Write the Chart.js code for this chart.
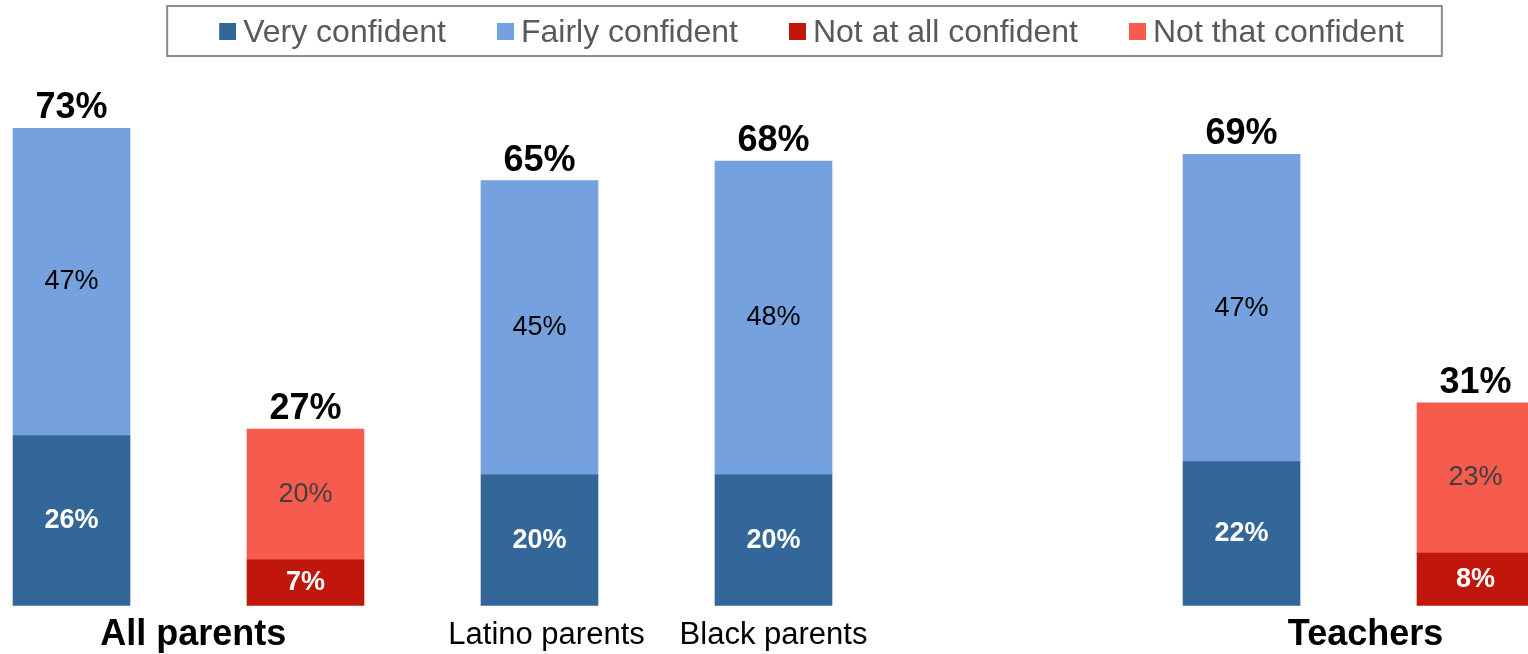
<!DOCTYPE html>
<html>
<head>
<meta charset="utf-8">
<script src="https://cdn.jsdelivr.net/npm/chart.js@4.4.1/dist/chart.umd.min.js"></script>
<style>
  html, body { margin: 0; padding: 0; background: #fff; overflow: hidden; }
  #wrap { width: 1528px; height: 654px; position: relative; }
</style>
</head>
<body>
<div id="wrap"><canvas id="grafica"></canvas></div>
<script>
// Slots from left to right (slot 4 is the empty gap between groups)
const slots = ["All parents (confident)", "All parents (not confident)", "Latino parents", "Black parents", "", "Teachers (confident)", "Teachers (not confident)"];
// Labels under the bars and the slot they are centred on
const tickLabels = ["All parents", "Latino parents", "Black parents", "Teachers"];
const tickAt = [0.52, 2.03, 3, 5.53];
// Series values in %
const veryConfident   = [26, null, 20, 20, null, 22, null];
const fairlyConfident = [47, null, 45, 48, null, 47, null];
const notAtAll        = [null, 7, null, null, null, null, 8];
const notThat         = [null, 20, null, null, null, null, 23];

const seriesNames  = ["Very confident", "Fairly confident", "Not at all confident", "Not that confident"];
const seriesValues = [veryConfident, fairlyConfident, notAtAll, notThat];
const seriesColors = ['#336699', '#75A1DE', '#C0160C', '#F65B4E'];
const labelColors  = ['#FFFFFF', '#000000', '#FFFFFF', '#404040'];
const labelBold    = [true, false, true, false];

const FAMILY = "'Liberation Sans', Arial, sans-serif";

// legend marker: small square at the right end of a transparent strip
function marcador(color) {
    const c = document.createElement('canvas');
    c.width = 67; c.height = 28;
    const g = c.getContext('2d');
    g.fillStyle = color;
    g.fillRect(50, 4, 17, 17);
    return c;
}
const marcadores = seriesColors.map(marcador);

const toPoints = arr => arr.map((v, i) => v === null ? null : {x: i, y: v}).filter(p => p);

// values inside the segments and totals above each bar
const etiquetas = {
    id: 'etiquetas',
    afterDatasetsDraw(chart) {
        const ctx = chart.ctx;
        const tops = {};
        ctx.save();
        ctx.textAlign = 'center';
        ctx.textBaseline = 'middle';
        chart.data.datasets.forEach((ds, d) => {
            const meta = chart.getDatasetMeta(d);
            meta.data.forEach((bar, j) => {
                const p = ds.data[j];
                ctx.font = (labelBold[d] ? 'bold ' : '') + '27px ' + FAMILY;
                ctx.fillStyle = labelColors[d];
                ctx.fillText(p.y + '%', bar.x, (bar.y + bar.base) / 2);
                if (!(p.x in tops) || bar.y < tops[p.x].y) tops[p.x] = {x: bar.x, y: bar.y};
            });
        });
        ctx.font = 'bold 36px ' + FAMILY;
        ctx.fillStyle = '#000000';
        ctx.textBaseline = 'alphabetic';
        Object.keys(tops).forEach(k => {
            const total = seriesValues.reduce((s, arr) => s + (arr[k] || 0), 0);
            ctx.fillText(total + '%', tops[k].x, tops[k].y - 10);
        });
        ctx.restore();
    },
    afterDraw(chart) {
        // frame round the legend
        const lg = chart.legend;
        const hb = lg.legendHitBoxes;
        if (!hb || !hb.length) return;
        const last = hb[hb.length - 1];
        const left = hb[0].left - 11;
        const right = last.left + last.width + 38;
        const ctx = chart.ctx;
        ctx.save();
        ctx.strokeStyle = '#8C8C8C';
        ctx.lineWidth = 2;
        ctx.strokeRect(left, lg.top - 1, right - left, lg.height - 2);
        ctx.restore();
    }
};

new Chart(document.querySelector('#grafica'), {
    type: 'bar',
    data: {
        datasets: seriesValues.map((vals, i) => ({
            label: seriesNames[i],
            data: toPoints(vals),
            backgroundColor: seriesColors[i],
            stack: 'total',
            clip: false,
            barThickness: 117
        }))
    },
    options: {
        responsive: true,
        maintainAspectRatio: false,
        animation: false,
        layout: { padding: { top: 7, right: 0, bottom: 0, left: 54 } },
        plugins: {
            legend: {
                position: 'top',
                align: 'center',
                labels: {
                    usePointStyle: true,
                    pointStyleWidth: 49,
                    padding: 10,
                    color: '#595959',
                    font: { size: 32, family: FAMILY },
                    generateLabels: chart => chart.data.datasets.map((ds, i) => ({
                        text: ds.label,
                        fillStyle: ds.backgroundColor,
                        strokeStyle: ds.backgroundColor,
                        lineWidth: 0,
                        pointStyle: marcadores[i],
                        fontColor: '#595959',
                        hidden: false,
                        datasetIndex: i
                    }))
                }
            },
            tooltip: { enabled: false }
        },
        scales: {
            x: {
                type: 'linear',
                offset: false,
                min: -0.0748,
                max: 6.2243,
                grid: { display: false, drawTicks: false, offset: false },
                border: { display: false },
                afterBuildTicks: scale => { scale.ticks = tickAt.map(v => ({ value: v })); },
                afterFit: scale => {
                    scale.paddingLeft = 0;
                    scale.paddingRight = 0;
                    scale.height = 48.5;
                },
                ticks: {
                    autoSkip: false,
                    maxRotation: 0,
                    padding: 11.5,
                    color: '#000000',
                    font: c => (c.index === 0 || c.index === 3)
                        ? { size: 36, weight: 'bold', family: FAMILY, lineHeight: '36px' }
                        : { size: 31, weight: 'normal', family: FAMILY, lineHeight: '36px' },
                    callback: (v, i) => tickLabels[i]
                }
            },
            y: { display: false, stacked: true, min: 0, max: 83.6 }
        }
    },
    plugins: [etiquetas]
});
</script>
</body>
</html>
